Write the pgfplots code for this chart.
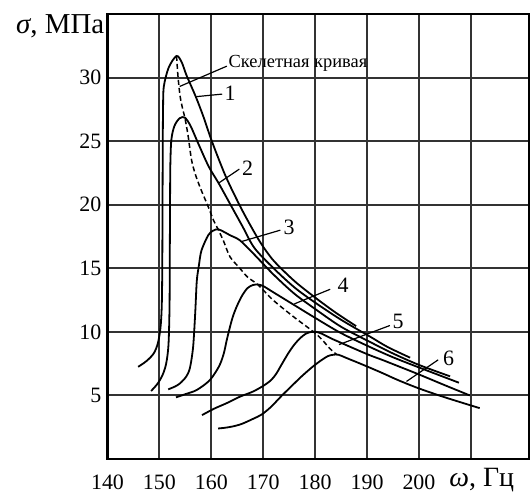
\documentclass[border=0pt]{standalone}
\usepackage{fontspec}
\setmainfont{Liberation Serif}
\usepackage{pgfplots}
\pgfplotsset{compat=1.18}
\tikzset{crv/.style={black, solid, line width=1.8bp, smooth, tension=0.5, mark=none}}
\begin{document}
\begin{tikzpicture}
\path[use as bounding box] (-107.5bp,-34bp) rectangle (423.5bp,459bp);
\begin{axis}[at={(0,0)}, anchor=south west,
  width=421.5bp, height=445bp, scale only axis,
  xmin=140, xmax=221.2, ymin=0, ymax=35,
  xtick={140,150,...,210}, xticklabels={140,150,160,170,180,190,200,{}},
  ytick={5,10,...,30},
  xmajorgrids=true, ymajorgrids=true,
  major grid style={draw=black!80, line width=2bp},
  major tick length=0pt,
  axis line style={line width=2.5bp},
  tick label style={font=\fontsize{22}{24}\selectfont, inner sep=1bp},
  xticklabel style={anchor=base, yshift=-30bp},
  yticklabel style={xshift=-5bp},
  /pgf/number format/assume math mode=true,
  clip=false,
]
% curve 1
\addplot[crv] coordinates {(145.9,7.25)(147.5,7.7)(148.9,8.3)(149.7,9.1)(150.2,10.3)(150.45,12)(150.55,15)(150.6,20)(150.65,25)(150.7,27.5)(150.85,29.3)(151.8,30.8)(153.3,31.7)(154.3,31.2)(155.2,30.2)(157,28.5)(158.5,26.9)(160.1,25)(162.7,22.3)(165.4,20)(167.5,18.4)(169.5,17.0)(172,15.6)(176,14.0)(180,12.7)(184,11.5)(187.9,10.45)};
% curve 2
\addplot[crv] coordinates {(148.4,5.35)(149.6,5.9)(150.6,6.6)(151.3,7.5)(151.75,9)(151.95,12)(152.0,16)(152.05,20)(152.1,23)(152.3,25.1)(152.9,26.2)(153.9,26.8)(154.9,26.85)(156,26.2)(157.5,24.8)(159.5,23.0)(161.4,21.7)(163.7,20.0)(166,18.3)(168.3,16.6)(172,15.0)(176,13.5)(180,12.3)(185,10.95)(190.6,9.62)(194,8.8)(198.3,7.97)};
% curve 3
\addplot[crv] coordinates {(151.7,5.48)(153,5.7)(154,5.96)(155.2,6.5)(155.9,7.2)(156.5,8.84)(156.9,11.5)(157.2,14.0)(157.6,15.2)(158.1,16.4)(159.4,17.6)(160.3,17.95)(161.3,18.07)(162.5,17.85)(163.6,17.6)(165.5,17.2)(168,16.2)(172,14.5)(176,13.0)(180,11.8)(185,10.4)(190.6,9.2)(195,8.3)(200,7.4)(206,6.5)};
% curve 4
\addplot[crv] coordinates {(153.2,4.85)(155,5.1)(157.2,5.43)(159.7,6.2)(161.5,7.3)(162.4,8.3)(163,9.4)(164,11.0)(164.9,12.0)(166,12.9)(167,13.45)(168,13.68)(169,13.72)(170,13.6)(172,13.1)(176,12.1)(180,11.1)(185,9.9)(190.6,8.8)(195,8.0)(200,7.2)(207.7,6.0)};
% curve 5
\addplot[crv] coordinates {(158.2,3.45)(160.5,3.95)(163,4.4)(165.5,4.9)(168,5.3)(170,5.75)(171.5,6.2)(172.5,6.7)(173.5,7.4)(174.8,8.3)(176,9.0)(177.1,9.5)(178.2,9.85)(179.3,10.0)(180.2,10.0)(181.3,9.85)(183,9.5)(185.2,9.1)(188,8.6)(190.6,8.15)(192.9,7.8)(196,7.3)(200,6.65)(205,5.8)(209.8,5.0)};
% curve 6
\addplot[crv] coordinates {(161.3,2.4)(162.5,2.45)(164,2.55)(165.8,2.75)(168,3.15)(169.7,3.5)(171.5,4.1)(173.5,4.95)(175.5,5.75)(177.4,6.5)(179.5,7.25)(181.3,7.8)(182.5,8.1)(183.5,8.2)(184.5,8.2)(186,7.95)(189,7.45)(192.9,6.77)(196,6.2)(200,5.55)(205,4.85)(211.7,4.0)};
% skeleton curve
\addplot[crv, dash pattern=on 5bp off 3bp, line width=1.5bp] coordinates {(153.3,31.7)(153.6,30)(154.0,28.5)(154.5,27.5)(154.9,26.85)(155.5,25.5)(156.2,23.5)(157,22.3)(158,21.2)(159.4,19.85)(160.4,18.8)(161.3,18.07)(162.4,17.1)(163.6,15.9)(165.5,15.0)(167,14.3)(169,13.7)(171.9,12.5)(175.8,11.2)(179.7,10.0)(181.3,9.4)(182.8,8.7)(184.2,8.2)};
% annotations
\node[font=\fontsize{18.5}{20}\selectfont, inner sep=1bp] at (axis cs:176.7,31.15) {Скелетная кривая};
\draw[line width=1.2bp] (axis cs:163.0,30.9) -- (axis cs:153.9,29.3);
\begin{scope}[every node/.style={font=\fontsize{22}{24}\selectfont, inner sep=1bp}]
\node at (axis cs:163.6,28.8) {1};
\draw[line width=1.2bp] (axis cs:162.1,28.7) -- (axis cs:157.1,28.5);
\node at (axis cs:167.0,22.9) {2};
\draw[line width=1.2bp] (axis cs:165.4,22.8) -- (axis cs:161.4,21.7);
\node at (axis cs:175.0,18.2) {3};
\draw[line width=1.2bp] (axis cs:173.3,18.0) -- (axis cs:165.8,17.1);
\node at (axis cs:185.4,13.7) {4};
\draw[line width=1.2bp] (axis cs:182.9,13.35) -- (axis cs:176,12.2);
\node at (axis cs:196.0,10.8) {5};
\draw[line width=1.2bp] (axis cs:194.4,10.5) -- (axis cs:184.6,9.0);
\node at (axis cs:205.7,7.9) {6};
\draw[line width=1.2bp] (axis cs:203.7,7.8) -- (axis cs:197.6,6.1);
\end{scope}
\node[font=\fontsize{28}{30}\selectfont, anchor=base, inner sep=0.5bp] at (rel axis cs:0.888,0) [yshift=-27.5bp] {\textit{ω}, Гц};
\node[font=\fontsize{29}{31}\selectfont, anchor=base east, inner sep=1bp] at (rel axis cs:0,1) [yshift=-20bp, xshift=-2bp] {\textit{σ}, МПа};
\end{axis}
\end{tikzpicture}
\end{document}
